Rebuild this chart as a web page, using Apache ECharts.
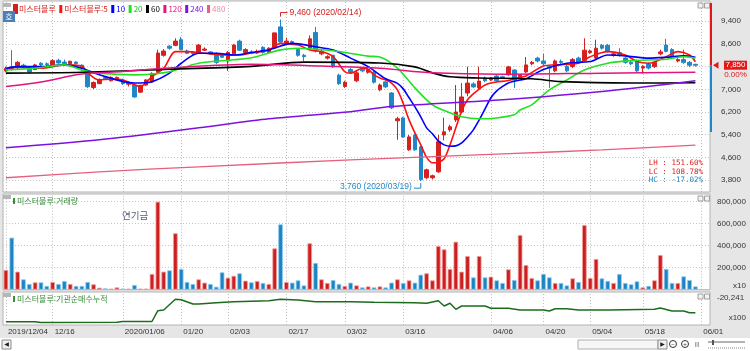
<!DOCTYPE html>
<html lang="ko">
<head>
<meta charset="utf-8">
<title>미스터블루</title>
<script src="https://cdn.jsdelivr.net/npm/echarts@6.0.0/dist/echarts.min.js"></script>
<style>
  html, body { margin: 0; padding: 0; background: #fff; }
  #chart { width: 750px; height: 351px; }
</style>
</head>
<body>
<div id="chart"></div>
<script>
// trading days on screen
const dates = [
  '2019/12/04','2019/12/05','2019/12/06','2019/12/09','2019/12/10','2019/12/11','2019/12/12','2019/12/13','2019/12/16','2019/12/17',
  '2019/12/18','2019/12/19','2019/12/20','2019/12/23','2019/12/24','2019/12/26','2019/12/27','2019/12/30','2020/01/02','2020/01/03',
  '2020/01/06','2020/01/07','2020/01/08','2020/01/09','2020/01/10','2020/01/13','2020/01/14','2020/01/15','2020/01/16','2020/01/17',
  '2020/01/20','2020/01/21','2020/01/22','2020/01/23','2020/01/28','2020/01/29','2020/01/30','2020/01/31','2020/02/03','2020/02/04',
  '2020/02/05','2020/02/06','2020/02/07','2020/02/10','2020/02/11','2020/02/12','2020/02/13','2020/02/14','2020/02/17','2020/02/18',
  '2020/02/19','2020/02/20','2020/02/21','2020/02/24','2020/02/25','2020/02/26','2020/02/27','2020/02/28','2020/03/02','2020/03/03',
  '2020/03/04','2020/03/05','2020/03/06','2020/03/09','2020/03/10','2020/03/11','2020/03/12','2020/03/13','2020/03/16','2020/03/17',
  '2020/03/18','2020/03/19','2020/03/20','2020/03/23','2020/03/24','2020/03/25','2020/03/26','2020/03/27','2020/03/30','2020/03/31',
  '2020/04/01','2020/04/02','2020/04/03','2020/04/06','2020/04/07','2020/04/08','2020/04/09','2020/04/10','2020/04/13','2020/04/14',
  '2020/04/16','2020/04/17','2020/04/20','2020/04/21','2020/04/22','2020/04/23','2020/04/24','2020/04/27','2020/04/28','2020/04/29',
  '2020/05/04','2020/05/06','2020/05/07','2020/05/08','2020/05/11','2020/05/12','2020/05/13','2020/05/14','2020/05/15','2020/05/18',
  '2020/05/19','2020/05/20','2020/05/21','2020/05/22','2020/05/25','2020/05/26','2020/05/27','2020/05/28','2020/05/29'
];
const axisDates = dates.concat(['2020/06/01', '']);

const tickDates = ['2019/12/04','2019/12/16','2020/01/06','2020/01/20','2020/02/03','2020/02/17','2020/03/02',
  '2020/03/16','2020/04/06','2020/04/20','2020/05/04','2020/05/18','2020/06/01'];
const tickLabels = ['2019/12/04','12/16','2020/01/06','01/20','02/03','02/17','03/02',
  '03/16','04/06','04/20','05/04','05/18','06/01'];

const opens = [
  7650,7800,7760,7850,7700,7700,7920,7900,7860,8020,
  7960,7900,7960,7850,7620,7060,7200,7420,7300,7380,
  7330,7180,7150,6900,7150,7260,7600,8200,8520,8550,
  8750,8350,8300,8280,8380,8320,8250,8200,8000,8250,
  8700,8300,8320,8280,8480,8300,8460,9200,8600,8680,
  8400,8200,8450,9000,8250,8100,8200,7500,7100,7700,
  7300,7700,7600,7600,6980,7260,6870,5890,5990,4865,
  5390,4970,3880,3880,4090,5390,5570,5920,6200,6870,
  7190,7050,7400,7330,7470,7440,7510,7680,7440,7610,
  7900,8100,8000,7800,7650,7980,7800,7800,8100,8020,
  8300,8100,8550,8550,8200,8300,8100,7950,8000,7750,
  7900,7800,8250,8560,8400,8000,8050,7950,7880
];
const closes = [
  7740,7700,7950,7790,7610,7860,7860,7870,8010,7930,
  7900,7990,7910,7760,7090,7240,7350,7380,7420,7420,
  7200,7240,6730,7140,7330,7560,8280,8350,8450,8700,
  8400,8270,8260,8560,8420,8250,7950,8130,8300,8560,
  8380,8400,8280,8330,8300,8450,8990,8670,8700,8600,
  8200,8150,8780,8350,8330,8150,7800,7200,7250,7600,
  7580,7650,7700,7250,7150,7085,6345,5960,5320,5320,
  4865,3810,4160,3950,5150,5500,5675,6200,6730,7220,
  7085,7290,7300,7400,7300,7400,7790,7330,7510,7860,
  7950,8000,7900,7750,8000,7950,7650,8050,7950,8380,
  8350,8450,8450,8350,8250,8200,7950,7900,7650,7800,
  7750,7950,8320,8340,8150,8050,7950,7850,7850
];
const lows = [
  7600,7650,7700,7720,7560,7680,7820,7800,7840,7900,
  7850,7880,7880,7650,7050,7000,7180,7330,7280,7340,
  7150,7100,6700,6880,7120,7240,7550,8150,8400,8520,
  8380,8240,8200,8260,8350,8220,7900,8100,7650,8200,
  8350,8280,8240,8250,8260,8280,8440,8650,8560,8560,
  8150,8000,8400,8300,8200,8050,7750,7150,7050,7550,
  7250,7600,7550,7200,6930,7050,6300,5220,5290,4830,
  4830,3760,3830,3820,4050,5200,5500,5850,6150,6750,
  7050,7000,7250,7300,7260,7380,7480,7050,7400,7580,
  7850,7950,7850,7050,7600,7900,7600,7750,7900,7980,
  8250,8050,8400,8300,8150,8150,7900,7850,7600,7550,
  7700,7750,8200,8300,8100,7950,7900,7780,7800
];
const highs = [
  7800,8380,8000,7900,7730,7900,7960,7950,8060,8080,
  8050,8010,7990,7880,7650,7280,7380,7450,7460,7450,
  7380,7280,7200,7160,7360,7600,8400,8420,8560,8800,
  8850,8400,8350,8600,8480,8350,8300,8230,8350,8600,
  8750,8450,8380,8400,8520,8480,9000,9460,8820,8720,
  8420,8250,8900,9200,8400,8200,8220,7550,7300,7750,
  7650,7750,7760,7650,7200,7300,6900,6030,6030,5390,
  5430,5000,4200,3990,5390,6000,5750,7150,7220,7800,
  7250,7800,7450,7430,7500,7480,7830,7700,7540,8140,
  8000,8150,8250,7850,8050,8050,7850,8100,8150,8800,
  8400,8750,8600,8600,8300,8450,8150,8000,8050,7850,
  7950,8000,8400,8780,8450,8100,8400,8000,7900
];

// volume (axis units, shown x10)
const volumes = [
  179000,473000,164000,94000,52000,67000,67000,34000,70000,52000,
  79000,52000,34000,34000,70000,49000,18000,12000,9000,21000,
  10000,9000,43000,10000,10000,143000,800000,164000,176000,513000,
  188000,70000,52000,94000,64000,52000,27000,158000,109000,126000,
  149000,82000,67000,79000,61000,52000,376000,594000,70000,64000,
  85000,39000,422000,243000,94000,61000,88000,52000,34000,64000,
  39000,21000,30000,21000,30000,21000,64000,94000,61000,85000,
  64000,136000,149000,85000,397000,367000,188000,436000,164000,306000,
  112000,306000,112000,118000,85000,61000,185000,88000,497000,224000,
  106000,85000,143000,112000,61000,61000,39000,103000,70000,588000,
  106000,279000,103000,79000,61000,143000,61000,49000,76000,21000,
  34000,85000,315000,188000,61000,61000,121000,88000,30000
];

// moving averages: [day index, price]
const ma5 = [[0,7720],[2,7780],[6,7740],[10,7860],[13,7820],[14,7580],[16,7330],[18,7360],[20,7330],[22,7160],
  [23,7100],[25,7450],[27,7740],[29,8330],[31,8330],[34,8270],[38,8210],[40,8210],[42,8280],[45,8390],
  [47,8620],[50,8560],[52,8390],[54,8330],[56,8150],[58,7620],[59,7570],[61,7740],[62,7700],[63,7510],
  [64,7400],[65,7330],[66,7220],[67,6980],[68,6500],[69,5920],[70,5460],[71,5040],[72,4600],[73,4410],
  [74,4430],[75,4550],[76,5040],[77,5640],[78,6240],[79,6630],[80,6840],[81,7010],[82,7150],[83,7220],
  [84,7260],[86,7310],[88,7420],[89,7470],[92,7820],[94,7860],[98,7920],[100,8150],[103,8330],[106,8210],
  [108,7980],[110,7920],[113,8150],[115,8330],[117,8210],[118,7970]];
const ma10 = [[0,7740],[2,7800],[6,7800],[10,7860],[13,7740],[16,7510],[22,7220],[25,7270],[28,7570],[30,7920],
  [33,8270],[36,8270],[39,8210],[42,8300],[45,8390],[49,8620],[53,8500],[56,8390],[59,8100],[62,7800],
  [65,7370],[67,7210],[68,7015],[69,6700],[70,6380],[71,6030],[72,5640],[73,5430],[74,5180],[75,5040],
  [76,4990],[77,5005],[78,5110],[79,5320],[80,5570],[81,5920],[82,6310],[83,6700],[84,6945],[85,7100],
  [86,7225],[88,7330],[89,7370],[92,7700],[96,7920],[100,7980],[103,8210],[106,8180],[110,8100],[113,8130],
  [116,8180],[118,8130]];
const ma20 = [[0,7680],[5,7740],[10,7860],[13,7680],[16,7570],[22,7510],[25,7540],[28,7620],[33,7920],[39,8040],
  [42,8110],[47,8390],[50,8450],[56,8360],[62,8170],[64,8140],[67,7750],[70,7050],[73,6450],[76,6170],
  [78,6030],[81,5960],[84,5990],[87,6100],[88,6270],[90,6450],[93,6980],[96,7330],[99,7680],[103,7920],
  [107,8010],[113,8060],[116,8150],[118,8100]];
const ma60 = [[0,7570],[13,7600],[28,7710],[42,7810],[51,7960],[64,7930],[70,7790],[73,7580],[76,7440],[81,7400],
  [90,7370],[95,7270],[107,7220],[118,7230]];
const ma120 = [[0,7100],[6,7260],[13,7540],[20,7630],[28,7750],[42,7880],[54,7820],[64,7740],[73,7580],[85,7530],
  [102,7570],[118,7600]];
const ma240 = [[0,4940],[16,5220],[33,5640],[45,5960],[59,6210],[66,6390],[85,6630],[102,6920],[118,7300]];
const ma480 = [[0,3880],[16,4090],[33,4265],[59,4510],[85,4720],[102,4860],[118,5030]];

// institutional net buying, cumulative (x100)
const inst = [[0,-22640],[5,-22640],[6,-22720],[19,-22700],[20,-22620],[25,-22620],[26,-21540],[27,-21470],[29,-20400],[30,-20450],
  [32,-20870],[33,-20870],[36,-20740],[39,-20640],[45,-20540],[47,-20400],[50,-20470],[53,-20640],[59,-20640],[63,-20700],
  [70,-20740],[72,-20800],[74,-20540],[75,-21070],[76,-20800],[77,-21400],[78,-21070],[82,-21070],[83,-21300],[86,-21300],
  [88,-21470],[92,-21470],[93,-21570],[94,-21340],[96,-21340],[98,-21470],[103,-21470],[106,-21440],[111,-21400],[112,-21270],
  [114,-21570],[116,-21570],[117,-21740],[118,-21740]];

const priceGrid = [3800, 4600, 5400, 6200, 7000, 7800, 8600, 9400];
const priceLabels = [3800, 4600, 5400, 6200, 7000, 8600, 9400];
const volTicks = [200000, 400000, 600000, 800000];
const instTicks = [-20241];

const RED = '#d4201f';
const BLUE = '#1f86c8';
const FONT = '"Liberation Sans", "Noto Sans CJK KR", sans-serif';
const KFONT = '"Noto Sans CJK KR", "Liberation Sans", sans-serif';

const maLines = [
  { name: '미스터블루:5', data: ma5, color: '#ff1010', width: 1.6 },
  { name: '10', data: ma10, color: '#0000ff', width: 1.6 },
  { name: '20', data: ma20, color: '#22e022', width: 1.6 },
  { name: '60', data: ma60, color: '#000000', width: 1.6 },
  { name: '120', data: ma120, color: '#e0157f', width: 1.5 },
  { name: '240', data: ma240, color: '#7c12e0', width: 1.5 },
  { name: '480', data: ma480, color: '#e4607c', width: 1.3 },
];
const legendItems = [
  ['미스터블루', RED], ['미스터블루:5', RED], ['10', '#0000ff'], ['20', '#11c011'],
  ['60', '#000'], ['120', '#e0157f'], ['240', '#7c12e0'], ['480', '#e88aa8'],
];

function fmtNum(v) {
  return Number(v).toLocaleString('en-US');
}

function gridMarks() {
  return {
    silent: true,
    symbol: ['none', 'none'],
    z: 1,
    animation: false,
    label: { show: false },
    emphasis: { disabled: true },
    lineStyle: { type: [1, 2], color: '#bdbdbd', width: 1 },
    data: tickDates.map((d) => ({ xAxis: d })),
  };
}

function xAxisFor(gridIndex) {
  return {
    type: 'category',
    gridIndex,
    data: axisDates,
    boundaryGap: true,
    axisLine: { show: false },
    axisTick: { show: false },
    splitLine: { show: false },
    axisLabel: {
      show: gridIndex === 2,
      interval: (i, value) => tickDates.includes(value),
      formatter: (value) => tickLabels[tickDates.indexOf(value)] || '',
      align: 'left',
      padding: [0, 0, 0, 2],
      margin: 3,
      fontSize: 8,
      fontFamily: FONT,
      color: '#333',
    },
  };
}

function yAxisFor(gridIndex, min, max, grid, labels, split, margin) {
  return {
    type: 'value',
    gridIndex,
    position: 'right',
    min,
    max,
    axisLine: { show: false },
    axisTick: { show: false, customValues: grid },
    axisLabel: { customValues: labels, formatter: fmtNum, margin, fontSize: 8, fontFamily: FONT, color: '#333' },
    splitLine: { show: split, lineStyle: { type: [1, 2], color: '#c4c4c4' } },
  };
}

const chart = echarts.init(document.getElementById('chart'), null, { renderer: 'canvas' });

const candles = opens.map((o, i) => [o, closes[i], lows[i], highs[i]]);
const volBars = volumes.map((v, i) => {
  const up = closes[i] >= opens[i];
  return { value: v, itemStyle: { color: up ? '#cc1f1f' : '#1b84c4', borderColor: up ? '#f0a0a0' : '#8ccaee' } };
});

chart.setOption({
  animation: false,
  backgroundColor: '#e6e6e6',
  textStyle: { fontFamily: FONT },
  legend: {
    left: 13,
    top: 4,
    padding: 0,
    itemWidth: 3,
    itemHeight: 8,
    itemGap: 3.5,
    icon: 'rect',
    selectedMode: false,
    textStyle: { fontSize: 8, fontFamily: KFONT, padding: [0, 0, 0, -3] },
    data: legendItems.map(([name, color]) => ({ name, textStyle: { color } })),
  },
  grid: [
    { left: 3, right: 40, top: 1, height: 191, show: true, backgroundColor: '#fff', borderColor: '#b4b4b4', borderWidth: 1 },
    { left: 3, right: 40, top: 194, height: 95.7, show: true, backgroundColor: '#fff', borderColor: '#b4b4b4', borderWidth: 1 },
    { left: 3, right: 40, top: 292, height: 33, show: true, backgroundColor: '#fff', borderColor: '#b4b4b4', borderWidth: 1 },
  ],
  xAxis: [xAxisFor(0), xAxisFor(1), xAxisFor(2)],
  yAxis: [
    yAxisFor(0, 3377, 10115, priceGrid, priceLabels, true, 11),
    yAxisFor(1, 0, 870000, volTicks, volTicks, true, 7),
    yAxisFor(2, -22971, -19671, instTicks, instTicks, false, 7),
  ],
  series: [
    {
      name: '미스터블루',
      type: 'candlestick',
      xAxisIndex: 0,
      yAxisIndex: 0,
      data: candles,
      barWidth: 4,
      itemStyle: { color: RED, color0: BLUE, borderColor: RED, borderColor0: BLUE, borderWidth: 1 },
      markLine: gridMarks(),
      z: 3,
    },
    ...maLines.map((m) => ({
      name: m.name,
      type: 'line',
      xAxisIndex: 0,
      yAxisIndex: 0,
      data: m.data,
      symbol: 'none',
      smooth: 0.3,
      itemStyle: { color: m.color },
      lineStyle: { color: m.color, width: m.width },
      z: 4,
    })),
    {
      name: '거래량',
      type: 'bar',
      xAxisIndex: 1,
      yAxisIndex: 1,
      data: volBars,
      barWidth: 4.6,
      itemStyle: { borderWidth: 0.8 },
      markLine: gridMarks(),
    },
    {
      name: '기관순매수누적',
      type: 'line',
      xAxisIndex: 2,
      yAxisIndex: 2,
      data: inst,
      symbol: 'none',
      lineStyle: { color: '#1d6b1d', width: 1.5 },
      markLine: gridMarks(),
    },
  ],
});

// annotations placed through the chart's own scales
function at(gridIndex, i, v) {
  return chart.convertToPixel({ gridIndex }, [i, v]);
}

const hiVal = Math.max(...highs);
const hiIdx = highs.indexOf(hiVal);
const loVal = Math.min(...lows);
const loIdx = lows.indexOf(loVal);
const last = closes[closes.length - 1];
const prev = closes[closes.length - 2];
const pct = (v) => `${v.toFixed(2)}%`;

const [hx, hy] = at(0, hiIdx, hiVal);
const [lx, ly] = at(0, loIdx, loVal);
const lastY = at(0, 0, last)[1];
const upY = Math.max(3, at(0, 0, prev * 1.3)[1]);
const downY = at(0, 0, prev * 0.7)[1];

function text(x, y, str, color, size, extra = {}) {
  return {
    type: 'text', x, y, silent: true, z: 50,
    style: Object.assign({ text: str, fill: color, fontSize: size, fontFamily: FONT, verticalAlign: 'middle' }, extra),
  };
}
function rect(x, y, w, h, fill, stroke, z = 50) {
  return { type: 'rect', silent: true, z, shape: { x, y, width: w, height: h }, style: { fill, stroke: stroke || null, lineWidth: 1 } };
}
function panelHeader(y, label) {
  return [
    rect(3, y, 8, 4, '#b6b6b6'),
    rect(13, y + 3, 2, 6, '#3c8c3c'),
    text(17, y + 6, label, '#3c8c3c', 8, { fontFamily: KFONT }),
    rect(698, y + 1, 5, 5, '#f2f2f2', '#a0a0a0'),
    rect(704.5, y + 1, 5, 5, '#f2f2f2', '#a0a0a0'),
  ];
}

const graphics = [
  rect(3, 3, 8, 4, '#b6b6b6'),
  rect(3, 11, 12, 11, '#4b7fb8'),
  text(9, 16.5, '호', '#fff', 8, { fontFamily: KFONT, align: 'center' }),
  rect(698, 3, 5, 5, '#f2f2f2', '#a0a0a0'),
  rect(704.5, 3, 5, 5, '#f2f2f2', '#a0a0a0'),

  // high / low markers
  { type: 'polyline', silent: true, z: 50, shape: { points: [[hx, hy - 3], [hx, hy - 7], [hx + 7, hy - 7]] }, style: { stroke: RED, lineWidth: 1, fill: null } },
  text(hx + 9, hy - 7, `${fmtNum(hiVal)} (${dates[hiIdx]})`, RED, 8.5),
  { type: 'polyline', silent: true, z: 50, shape: { points: [[lx, ly + 2], [lx, ly + 7], [lx - 7, ly + 7]] }, style: { stroke: BLUE, lineWidth: 1, fill: null } },
  text(lx - 9, ly + 6, `${fmtNum(loVal)} (${dates[loIdx]})`, BLUE, 8.5, { align: 'right' }),

  // range statistics
  text(703, 163.5, `LH : ${pct((hiVal / loVal - 1) * 100)}`, RED, 7.5, { align: 'right', fontFamily: '"DejaVu Sans Mono", monospace' }),
  text(703, 172, `LC : ${pct((last / loVal - 1) * 100)}`, RED, 7.5, { align: 'right', fontFamily: '"DejaVu Sans Mono", monospace' }),
  text(703, 180.5, `HC : ${pct((last / hiVal - 1) * 100)}`, BLUE, 7.5, { align: 'right', fontFamily: '"DejaVu Sans Mono", monospace' }),

  // price limit bar and current price tag
  rect(710, upY, 2, lastY - upY, '#e01818'),
  rect(710, lastY, 2, downY - lastY, '#1f86c8'),
  { type: 'polygon', silent: true, z: 50, shape: { points: [[713, lastY], [718.5, lastY - 3.5], [718.5, lastY + 3.5]] }, style: { fill: '#e01818' } },
  rect(724, lastY - 4.5, 23, 9, '#e01818'),
  text(735.5, lastY, fmtNum(last), '#fff', 8, { align: 'center' }),
  text(735.5, lastY + 9.5, pct((last / prev - 1) * 100), '#e01818', 8, { align: 'center' }),

  // panel captions
  ...panelHeader(195, '미스터블루:거래량'),
  text(122, 215.5, '연기금', '#56607a', 9.5, { fontFamily: KFONT }),
  text(746, 285.5, 'x10', '#333', 8, { align: 'right' }),
  ...panelHeader(293, '미스터블루:기관순매수누적'),
  text(746, 318, 'x100', '#333', 8, { align: 'right' }),

  // scroll bar strip
  rect(0, 338, 750, 13, '#ffffff', null, 10),
  rect(2, 340, 9, 9, '#f0f0f0', '#8a8a8a'),
  text(6.5, 344.5, '◀', '#222', 6, { align: 'center', fontFamily: '"DejaVu Sans", sans-serif' }),
  rect(578, 340, 80, 9, '#f6f6f6', '#b0b0b0'),
  rect(658, 340, 9, 9, '#f0f0f0', '#8a8a8a'),
  text(662.5, 344.5, '▶', '#222', 6, { align: 'center', fontFamily: '"DejaVu Sans", sans-serif' }),
  { type: 'circle', silent: true, z: 50, shape: { cx: 673, cy: 344, r: 3.5 }, style: { fill: '#fff', stroke: '#333', lineWidth: 1 } },
  text(673, 344, '−', '#333', 6, { align: 'center' }),
  { type: 'circle', silent: true, z: 50, shape: { cx: 685, cy: 344, r: 3.5 }, style: { fill: '#fff', stroke: '#333', lineWidth: 1 } },
  text(685, 344, '+', '#333', 6, { align: 'center' }),
  text(697, 344, '|||', '#555', 6, { align: 'center' }),
  { type: 'line', silent: true, z: 50, shape: { x1: 708, y1: 342, x2: 745, y2: 342 }, style: { stroke: '#666', lineWidth: 1 } },
  rect(712, 340, 2, 5, '#555'),
  { type: 'line', silent: true, z: 50, shape: { x1: 708, y1: 348, x2: 745, y2: 348 }, style: { stroke: '#888', lineWidth: 1, lineDash: [1, 1] } },
];

chart.setOption({ graphic: graphics });
</script>
</body>
</html>
